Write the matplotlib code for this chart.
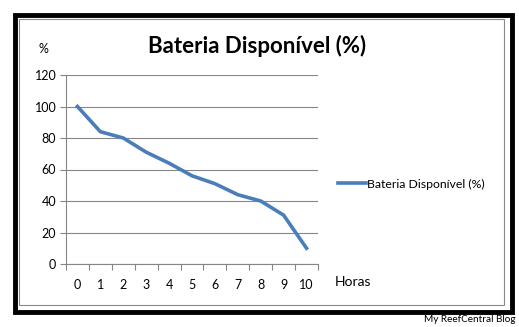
import matplotlib
matplotlib.use("Agg")
import matplotlib.pyplot as plt
from matplotlib.patches import Rectangle

hours = [0, 1, 2, 3, 4, 5, 6, 7, 8, 9, 10]
battery = [100, 84, 80, 71, 64, 56, 51, 44, 40, 31, 10]
yticks = [0, 20, 40, 60, 80, 100, 120]
title = "Bateria Disponível (%)"
series_name = "Bateria Disponível (%)"

W, H = 519, 327
plt.rcParams['font.family'] = ['Lato', 'DejaVu Sans']
fig = plt.figure(figsize=(W/100, H/100), dpi=100)
fig.patch.set_facecolor('white')

def fx(px): return px / W
def fy(py): return 1 - py / H

# outer black frame
fig.patches.append(Rectangle((fx(15), fy(312)), fx(512)-fx(15), fy(15)-fy(312),
                             transform=fig.transFigure, fill=False, edgecolor='black', linewidth=3.5))
# inner gray frame
fig.patches.append(Rectangle((fx(19), fy(305)), fx(504)-fx(19), fy(19)-fy(305),
                             transform=fig.transFigure, fill=False, edgecolor='#888888', linewidth=0.8))

ax = fig.add_axes([fx(66), fy(264), fx(318)-fx(66), fy(75)-fy(264)])
pos = list(range(len(hours)))
line, = ax.plot(pos, battery, color='#4a7ebb', linewidth=2.6, solid_joinstyle='round')
ax.set_xlim(-0.5, len(hours) - 0.5)
ax.set_ylim(0, 120)
ax.set_yticks(yticks)
ax.set_yticklabels([str(v) for v in yticks])
ax.yaxis.grid(True, color='#868686', linewidth=0.8)
ax.set_axisbelow(True)
ax.set_xticks([p - 0.5 for p in pos] + [len(hours) - 0.5])
ax.set_xticklabels([])
ax.set_xticks(pos, minor=True)
ax.set_xticklabels([str(h) for h in hours], minor=True)
ax.tick_params(axis='x', which='major', direction='out', length=4, color='#868686', width=0.8)
ax.tick_params(axis='x', which='minor', length=0, pad=11, labelsize=9)
ax.tick_params(axis='y', direction='out', length=4, color='#868686', width=0.8, labelsize=9, pad=3)
for s in ['top', 'right']:
    ax.spines[s].set_visible(False)
for s in ['left', 'bottom']:
    ax.spines[s].set_color('#868686')
    ax.spines[s].set_linewidth(0.8)

fig.text(fx(257), fy(46), title, ha='center', va='center', fontsize=16, fontweight='bold')
fig.text(fx(43), fy(49), '%', ha='center', va='center', fontsize=9)
fig.text(fx(335), fy(282), 'Horas', ha='left', va='center', fontsize=10)

leg = fig.legend([line], [series_name], loc='center left', bbox_to_anchor=(fx(327), fy(184)),
                 frameon=False, fontsize=8.8, handlelength=2.3, handletextpad=0.1)
fig.text(fx(515), fy(319), 'My ReefCentral Blog', ha='right', va='center', fontsize=7.2)

fig.savefig('out.png', dpi=100)
